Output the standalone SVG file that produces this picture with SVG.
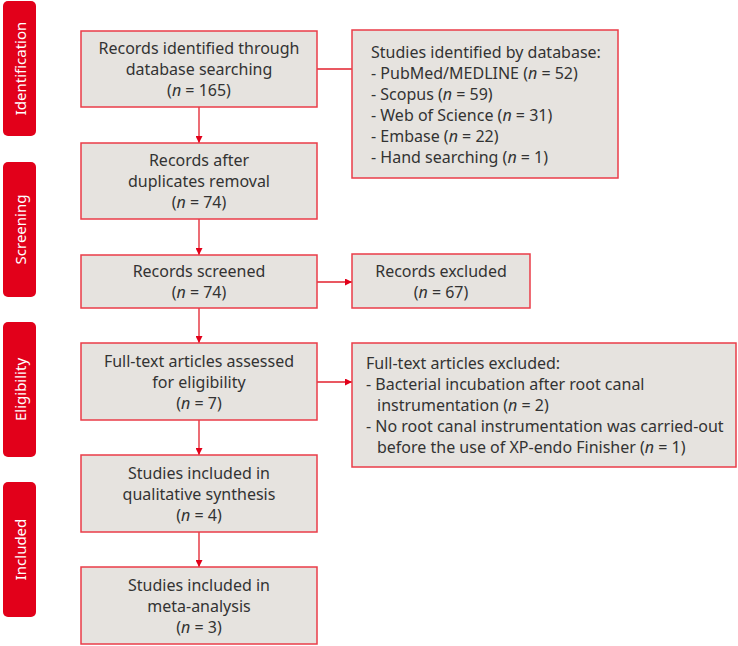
<svg xmlns="http://www.w3.org/2000/svg" width="738" height="646" viewBox="0 0 738 646">
<defs>
<style>
.side{fill:#e2001a}
.sidet{fill:#fff;font-family:"Noto Sans","Liberation Sans",sans-serif;font-size:15px;text-anchor:middle;dominant-baseline:central}
.box{fill:#e6e3df;stroke:#ea3c48;stroke-width:1.5}
.t{fill:#333;font-family:"Noto Sans","Liberation Sans",sans-serif;font-size:16px}
.c{text-anchor:middle}
.conn{stroke:#e2202c;stroke-width:1.3;fill:none}
</style>
<marker id="ah" viewBox="0 0 10 10" refX="10" refY="5" markerWidth="7" markerHeight="7" orient="auto" markerUnits="userSpaceOnUse">
<path d="M0,0 L10,5 L0,10 z" fill="#e2001a"/>
</marker>
</defs>
<rect width="738" height="646" fill="#fff"/>
<g id="stage-identification"><rect class="side" x="3" y="1" width="33" height="135" rx="5"/><text class="sidet" transform="translate(20,68.5) rotate(-90)">Identification</text></g>
<g id="stage-screening"><rect class="side" x="3" y="162" width="33" height="135" rx="5"/><text class="sidet" transform="translate(20,229.5) rotate(-90)">Screening</text></g>
<g id="stage-eligibility"><rect class="side" x="3" y="322" width="33" height="135" rx="5"/><text class="sidet" transform="translate(20,389.5) rotate(-90)">Eligibility</text></g>
<g id="stage-included"><rect class="side" x="3" y="482" width="33" height="135" rx="5"/><text class="sidet" transform="translate(20,549.5) rotate(-90)">Included</text></g>

<g id="connectors">
<line class="conn" x1="317" y1="69" x2="352" y2="69"/>
<line class="conn" x1="199" y1="107" x2="199" y2="143" marker-end="url(#ah)"/>
<line class="conn" x1="199" y1="219" x2="199" y2="255" marker-end="url(#ah)"/>
<line class="conn" x1="317" y1="282" x2="352" y2="282" marker-end="url(#ah)"/>
<line class="conn" x1="199" y1="308" x2="199" y2="343" marker-end="url(#ah)"/>
<line class="conn" x1="317" y1="382" x2="352" y2="382" marker-end="url(#ah)"/>
<line class="conn" x1="199" y1="420" x2="199" y2="455" marker-end="url(#ah)"/>
<line class="conn" x1="199" y1="532" x2="199" y2="567" marker-end="url(#ah)"/>
</g>

<g id="records-identified"><rect class="box" x="81" y="31" width="236" height="76"/>
<text class="t c" x="199" y="54">Records identified through</text>
<text class="t c" x="199" y="75">database searching</text>
<text class="t c" x="199" y="96">(<tspan font-style="italic">n</tspan> = 165)</text></g>

<g id="studies-by-database"><rect class="box" x="352" y="30" width="266" height="148"/>
<text class="t" x="371" y="58">Studies identified by database:</text>
<text class="t" x="371" y="79">- PubMed/MEDLINE (<tspan font-style="italic">n</tspan> = 52)</text>
<text class="t" x="371" y="100">- Scopus (<tspan font-style="italic">n</tspan> = 59)</text>
<text class="t" x="371" y="121">- Web of Science (<tspan font-style="italic">n</tspan> = 31)</text>
<text class="t" x="371" y="142">- Embase (<tspan font-style="italic">n</tspan> = 22)</text>
<text class="t" x="371" y="163">- Hand searching (<tspan font-style="italic">n</tspan> = 1)</text></g>

<g id="records-after-duplicates"><rect class="box" x="81" y="143" width="236" height="76"/>
<text class="t c" x="199" y="166">Records after</text>
<text class="t c" x="199" y="187">duplicates removal</text>
<text class="t c" x="199" y="208">(<tspan font-style="italic">n</tspan> = 74)</text></g>

<g id="records-screened"><rect class="box" x="81" y="255" width="236" height="53"/>
<text class="t c" x="199" y="277">Records screened</text>
<text class="t c" x="199" y="298">(<tspan font-style="italic">n</tspan> = 74)</text></g>

<g id="records-excluded"><rect class="box" x="352" y="254" width="178" height="54"/>
<text class="t c" x="441" y="277">Records excluded</text>
<text class="t c" x="441" y="298">(<tspan font-style="italic">n</tspan> = 67)</text></g>

<g id="full-text-assessed"><rect class="box" x="81" y="343" width="236" height="77"/>
<text class="t c" x="199" y="367">Full-text articles assessed</text>
<text class="t c" x="199" y="388">for eligibility</text>
<text class="t c" x="199" y="409">(<tspan font-style="italic">n</tspan> = 7)</text></g>

<g id="full-text-excluded"><rect class="box" x="352" y="343" width="384" height="124"/>
<text class="t" x="366" y="369">Full-text articles excluded:</text>
<text class="t" x="366" y="390">- Bacterial incubation after root canal</text>
<text class="t" x="377" y="411">instrumentation (<tspan font-style="italic">n</tspan> = 2)</text>
<text class="t" x="366" y="432">- No root canal instrumentation was carried-out</text>
<text class="t" x="377" y="453">before the use of XP-endo Finisher (<tspan font-style="italic">n</tspan> = 1)</text></g>

<g id="qualitative-synthesis"><rect class="box" x="81" y="455" width="236" height="77"/>
<text class="t c" x="199" y="479">Studies included in</text>
<text class="t c" x="199" y="500">qualitative synthesis</text>
<text class="t c" x="199" y="521">(<tspan font-style="italic">n</tspan> = 4)</text></g>

<g id="meta-analysis"><rect class="box" x="81" y="567" width="236" height="77"/>
<text class="t c" x="199" y="591">Studies included in</text>
<text class="t c" x="199" y="612">meta-analysis</text>
<text class="t c" x="199" y="633">(<tspan font-style="italic">n</tspan> = 3)</text></g>
</svg>
